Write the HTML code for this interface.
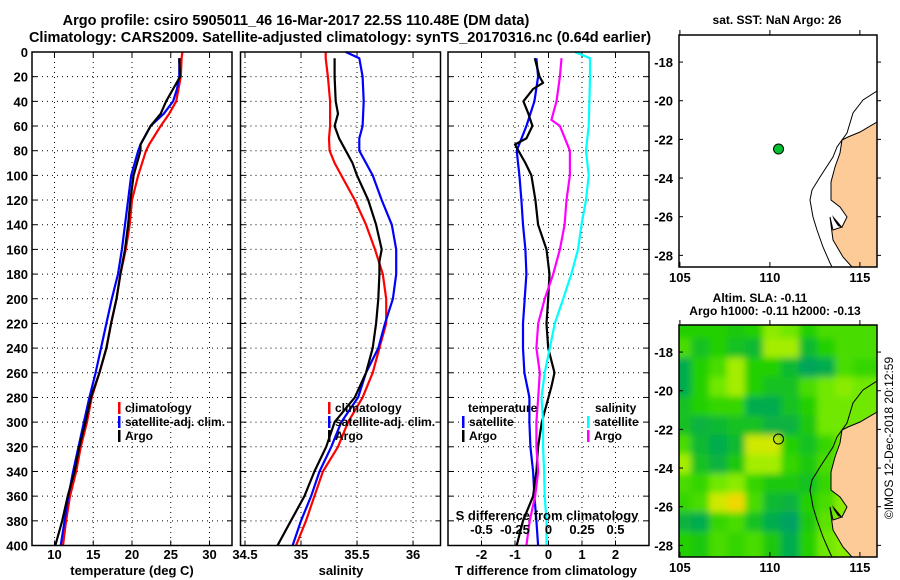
<!DOCTYPE html>
<html><head><meta charset="utf-8"><style>
html,body{margin:0;padding:0;background:#fff;}
svg{display:block;}
text{font-family:"Liberation Sans",sans-serif;font-weight:bold;fill:#000;}
</style></head><body>
<svg id="chart" width="900" height="580" viewBox="0 0 900 580" xmlns="http://www.w3.org/2000/svg">
<defs>
<filter id="blur" x="-5%" y="-5%" width="110%" height="110%"><feGaussianBlur stdDeviation="3.5"/></filter>
<clipPath id="mapclip"><rect x="679" y="325" width="198" height="232"/></clipPath>
<clipPath id="mapclipTop"><rect x="679" y="35" width="198" height="232"/></clipPath>
</defs>
<text x="296" y="25" text-anchor="middle" font-size="14.5">Argo profile: csiro 5905011_46 16-Mar-2017 22.5S 110.48E (DM data)</text>
<text x="340" y="42" text-anchor="middle" font-size="14.5">Climatology: CARS2009. Satellite-adjusted climatology: synTS_20170316.nc (0.64d earlier)</text>
<g id="plots"></g>
<text transform="translate(893,438) rotate(-90)" text-anchor="middle" font-size="12" style="font-weight:normal">©IMOS 12-Dec-2018 20:12:59</text>
</svg>
<script>
// ---------- data ----------
const tDepths   = [0,5,20,30,40,50,60,75,80,100,120,140,160,180,200,220,240,260,280,300,320,340,360,380,400];
const tClim     = [26.5,26.4,26.3,26.0,25.7,24.8,23.7,22.2,21.8,20.8,20.0,19.7,19.2,18.5,18.0,17.3,16.7,15.8,14.8,14.2,13.4,12.8,12.0,11.5,11.1];
const tSatDepths= [5,20,30,40,50,60,75,80,100,120,140,160,180,200,220,240,260,280,300,320,340,360,380,400];
const tSat      = [26.1,26.1,25.8,25.3,24.1,22.4,21.1,20.8,19.9,19.5,19.1,18.7,18.2,17.4,16.7,16.0,15.3,14.5,13.8,13.1,12.4,11.8,11.3,10.8];
const tArgo     = [26.1,26.2,25.3,24.4,23.7,22.4,21.1,21.1,20.2,19.8,19.5,19.1,18.5,18.0,17.3,16.7,15.8,14.7,14.0,13.2,12.6,11.7,11.0,10.1];

const sDepths   = [0,5,20,40,60,70,80,90,100,120,140,160,180,200,220,240,260,280,300,320,340,360,380,400];
const sClim     = [35.22,35.22,35.24,35.26,35.26,35.25,35.255,35.30,35.36,35.48,35.58,35.66,35.73,35.76,35.76,35.70,35.64,35.55,35.42,35.33,35.195,35.12,35.045,34.955];
const sSatDepths= [0,5,20,40,60,70,80,90,100,120,140,160,180,200,220,240,260,280,300,320,340,360,380,400];
const sSat      = [35.40,35.52,35.55,35.56,35.55,35.52,35.52,35.58,35.64,35.72,35.81,35.85,35.85,35.82,35.75,35.69,35.58,35.51,35.36,35.27,35.165,35.09,35.0,34.925];
const sArgoDepths=[5,20,40,50,60,70,80,90,100,120,140,160,170,180,200,220,240,260,280,300,320,340,360,380,400];
const sArgo     = [35.30,35.30,35.31,35.33,35.30,35.34,35.40,35.46,35.50,35.60,35.67,35.72,35.70,35.70,35.69,35.67,35.64,35.58,35.48,35.30,35.225,35.12,35.03,34.91,34.79];

const dTSatDepths=[5,20,40,60,80,100,120,140,160,180,200,220,240,260,280,300,320,340,360,380,400];
const dTSat     = [-0.36,-0.31,-0.42,-0.66,-0.95,-0.87,-0.81,-0.76,-0.69,-0.66,-0.71,-0.76,-0.76,-0.72,-0.57,-0.57,-0.54,-0.46,-0.42,-0.36,-0.31];
const dTArgoDepths=[5,20,25,30,40,50,60,70,75,80,90,100,120,140,160,180,200,220,240,260,271,280,290,300,320,340,360,380,400];
const dTArgo    = [-0.41,-0.27,-0.16,-0.46,-0.75,-0.6,-0.48,-0.66,-1.0,-0.9,-0.69,-0.51,-0.39,-0.31,-0.06,0.03,-0.01,-0.06,-0.01,0.18,0.09,0.0,-0.1,-0.2,-0.31,-0.36,-0.46,-0.76,-0.95];
const dSSatDepths=[0,5,20,40,60,80,100,120,140,160,180,200,220,240,260,280,300,320,340,360,380,400];
const dSSat     = [0.196,0.31,0.31,0.305,0.30,0.28,0.30,0.28,0.246,0.22,0.17,0.11,0.047,0.01,-0.028,-0.052,-0.04,-0.04,-0.033,-0.028,-0.015,-0.015];
const dSArgoDepths=[5,20,40,55,60,80,100,120,140,160,180,200,220,240,260,280,300,320,340,360,380,400];
const dSArgo    = [0.097,0.085,0.06,0.022,0.085,0.16,0.16,0.134,0.12,0.085,0.035,-0.028,-0.077,-0.09,-0.065,-0.077,-0.09,-0.09,-0.077,-0.1,-0.14,-0.165];

const depthTicks = [0,20,40,60,80,100,120,140,160,180,200,220,240,260,280,300,320,340,360,380,400];
const tTicks = [10,15,20,25,30];
const sTicks = [34.5,35,35.5,36];
const dTTicks = [-2,-1,0,1,2];
const dSTicks = [-0.5,-0.25,0,0.25,0.5];
const dSTickLabels = ['-0.5','-0.25','0','0.25','0.5'];
const lonTicks = [105,110,115];
const latTicks = [-18,-20,-22,-24,-26,-28];

// SLA grid (relative value 0..1), rows north->south, 1 degree cells from 104.95E, -16.6S
const slaGrid = [
 [0.5,0.5,0.5,0.45,0.5,0.75,0.7,0.5,0.6,0.6,0.6],
 [0.6,0.4,0.5,0.4,0.35,0.8,0.8,0.35,0.5,0.6,0.6],
 [0.25,0.5,0.6,0.8,0.5,0.5,0.35,0.2,0.25,0.6,0.55],
 [0.25,0.5,0.7,0.8,0.5,0.4,0.4,0.6,0.7,0.75,0.7],
 [0.4,0.5,0.55,0.55,0.25,0.25,0.4,0.5,0.7,0.7,0.7],
 [0.4,0.3,0.35,0.4,0.4,0.3,0.3,0.45,0.7,0.7,0.7],
 [0.6,0.35,0.25,0.35,0.9,0.9,0.5,0.4,0.55,0.7,0.7],
 [0.8,0.4,0.3,0.45,0.8,0.8,0.55,0.45,0.6,0.7,0.7],
 [0.6,0.55,0.7,0.75,0.55,0.45,0.45,0.4,0.55,0.75,0.75],
 [0.55,0.6,0.9,1.0,0.6,0.35,0.3,0.5,0.6,0.75,0.75],
 [0.3,0.25,0.55,0.6,0.4,0.25,0.15,0.45,0.65,0.75,0.75],
 [0.5,0.45,0.6,0.55,0.6,0.45,0.25,0.5,0.7,0.75,0.75]
];
const argoLon = 110.48, argoLat = -22.5;

// ---------- helpers ----------
const NS='http://www.w3.org/2000/svg';
const root=document.getElementById('plots');
function el(tag,attrs,parent){const e=document.createElementNS(NS,tag);for(const k in attrs)e.setAttribute(k,attrs[k]);(parent||root).appendChild(e);return e;}
function txt(x,y,s,size,anchor,parent){const t=el('text',{x:x,y:y,'font-size':size,'text-anchor':anchor||'middle'},parent);t.textContent=s;return t;}

const Y0=52, Y1=545.5;
const yD=d=>Y0+(d/400)*(Y1-Y0);

function panel(name,x0,x1,xmin,xmax){
  const g=el('g',{});
  
  
  const xs=v=>x0+(v-xmin)/(xmax-xmin)*(x1-x0);
  return {g,xs,x0,x1};
}
function grid(p,xticks,xsFn){
  depthTicks.forEach((d,i)=>{
    if(i>0&&i<depthTicks.length-1){
      const l=el('line',{x1:p.x0,x2:p.x1,y1:yD(d),y2:yD(d),stroke:'#000','stroke-width':1,'stroke-dasharray':'1,4'},p.g);
      
      
    }
    el('line',{x1:p.x0,x2:p.x0+5,y1:yD(d),y2:yD(d),stroke:'#000'},p.g);
    el('line',{x1:p.x1-5,x2:p.x1,y1:yD(d),y2:yD(d),stroke:'#000'},p.g);
  });
  xticks.forEach(v=>{
    const x=xsFn(v);
    const l=el('line',{x1:x,x2:x,y1:Y0,y2:Y1,stroke:'#000','stroke-width':1,'stroke-dasharray':'1,4'},p.g);
    
    
    el('line',{x1:x,x2:x,y1:Y1-5,y2:Y1,stroke:'#000'},p.g);
    el('line',{x1:x,x2:x,y1:Y0,y2:Y0+5,stroke:'#000'},p.g);
  });
}
function frame(p){
  const r=el('rect',{x:p.x0,y:Y0,width:p.x1-p.x0,height:Y1-Y0,fill:'none',stroke:'#000','stroke-width':1.5},p.g);
  
  
}
function series(p,xs,depths,vals,color,name){
  const pts=vals.map((v,i)=>xs(v).toFixed(1)+','+yD(depths[i]).toFixed(1)).join(' ');
  const pl=el('polyline',{points:pts,fill:'none',stroke:color,'stroke-width':2.2,'stroke-linejoin':'round'},p.g);
  
  
}
function legendEntry(g,x,y,color,label,name){
  const gg=el('g',{},g);
  
  
  el('rect',{x:x,y:y-10,width:2.5,height:12,fill:color},gg);
  txt(x+7,y,label,12,'start',gg);
}

// ---------- panel 1: temperature ----------
const p1=panel('temperature-panel',32,232,7.1,32.9);
grid(p1,tTicks,p1.xs);
series(p1,p1.xs,tDepths,tClim,'#ff0000','temp-climatology-line');
series(p1,p1.xs,tSatDepths,tSat,'#0000ff','temp-satellite-line');
series(p1,p1.xs,tSatDepths,tArgo,'#000000','temp-argo-line');
frame(p1);
depthTicks.forEach(d=>{const t=txt(28,yD(d)+5,String(d),13,'end',p1.g);});
tTicks.forEach(v=>{const t=txt(p1.xs(v),559,String(v),13,'middle',p1.g);});
txt(132,575,'temperature (deg C)',13,'middle',p1.g);
legendEntry(p1.g,118,412,'#ff0000','climatology','legend-climatology');
legendEntry(p1.g,118,426,'#0000ff','satellite-adj. clim.','legend-satellite');
legendEntry(p1.g,118,440,'#000000','Argo','legend-argo');

// ---------- panel 2: salinity ----------
const p2=panel('salinity-panel',240.5,440.5,34.46,36.245);
grid(p2,sTicks,p2.xs);
series(p2,p2.xs,sDepths,sClim,'#ff0000','sal-climatology-line');
series(p2,p2.xs,sSatDepths,sSat,'#0000ff','sal-satellite-line');
series(p2,p2.xs,sArgoDepths,sArgo,'#000000','sal-argo-line');
frame(p2);
sTicks.forEach(v=>{const t=txt(p2.xs(v),559,String(v),13,'middle',p2.g);});
txt(341,575,'salinity',13,'middle',p2.g);
legendEntry(p2.g,328,412,'#ff0000','climatology','legend-climatology');
legendEntry(p2.g,328,426,'#0000ff','satellite-adj. clim.','legend-satellite');
legendEntry(p2.g,328,440,'#000000','Argo','legend-argo');

// ---------- panel 3: differences ----------
const p3=panel('difference-panel',448,649,-3,3);
const xsS=v=>p3.xs(v*4);
grid(p3,dTTicks,p3.xs);
series(p3,p3.xs,dTSatDepths,dTSat,'#0000ff','tdiff-satellite-line');
series(p3,p3.xs,dTArgoDepths,dTArgo,'#000000','tdiff-argo-line');
series(p3,xsS,dSSatDepths,dSSat,'#00ffff','sdiff-satellite-line');
series(p3,xsS,dSArgoDepths,dSArgo,'#ff00ff','sdiff-argo-line');
frame(p3);
dTTicks.forEach(v=>{const t=txt(p3.xs(v),559,String(v),13,'middle',p3.g);});
dSTicks.forEach((v,i)=>{const t=txt(xsS(v),534,dSTickLabels[i],13,'middle',p3.g);});
txt(547,520,'S difference from climatology',13,'middle',p3.g);
txt(546,575,'T difference from climatology',13,'middle',p3.g);
txt(468,412,'temperature',12,'start',p3.g);
legendEntry(p3.g,462,426,'#0000ff','satellite','legend-t-satellite');
legendEntry(p3.g,462,440,'#000000','Argo','legend-t-argo');
txt(595,412,'salinity',12,'start',p3.g);
legendEntry(p3.g,587,426,'#00ffff','satellite','legend-s-satellite');
legendEntry(p3.g,587,440,'#ff00ff','Argo','legend-s-argo');

// ---------- maps ----------
const MX0=679, MX1=877, LON0=104.95, LON1=115.95;
const lonX=l=>MX0+(l-LON0)/(LON1-LON0)*(MX1-MX0);
function latY(top,lat){return top+(-16.6-lat)*19.33;}
const landPts='877,122 860,132 848,137 842,140 840,153 835,167 831,182 831,200 840,207 847,217 842,227 833,230 830,217 833,240 843,257 852,267 877,267';
const shelfPts='877,91 863,100 853,113 847,133 837,147 833,157 820,177 812,190 810,200 813,217 817,230 823,247 830,263 832,267';
const islandPts='832,215 838,222 843,228 838,226 834,220';
function mapFrame(g,top,name){
  el('rect',{x:MX0,y:top,width:MX1-MX0,height:232,fill:'none',stroke:'#000','stroke-width':1.5},g);
  lonTicks.forEach(l=>{const x=lonX(l);el('line',{x1:x,x2:x,y1:top+232-5,y2:top+232,stroke:'#000'},g);el('line',{x1:x,x2:x,y1:top-5,y2:top,stroke:'#000'},g);
    const t=txt(x,top+247,String(l),13,'middle',g);});
  latTicks.forEach(la=>{const y=latY(top,la);el('line',{x1:MX0,x2:MX0+4,y1:y,y2:y,stroke:'#000'},g);el('line',{x1:MX1,x2:MX1+4,y1:y,y2:y,stroke:'#000'},g);
    const t=txt(673,y+5,String(la),13,'end',g);});
}
function coast(g,dy,fill){
  el('polygon',{points:landPts,fill:fill,stroke:'#000','stroke-width':1,transform:'translate(0,'+dy+')'},g);
  el('polyline',{points:shelfPts,fill:'none',stroke:'#000','stroke-width':1,transform:'translate(0,'+dy+')'},g);
  el('polygon',{points:islandPts,fill:'#000',transform:'translate(0,'+dy+')'},g);
}
// top map
const m1=el('g',{});


el('rect',{x:MX0,y:35,width:198,height:232,fill:'#fff'},m1);
const gc1=el('g',{'clip-path':'url(#mapclipTop)'},m1);
coast(gc1,0,'#fdcb98');
const dot=el('circle',{cx:lonX(argoLon),cy:latY(35,argoLat),r:5,fill:'#00c030',stroke:'#000','stroke-width':1},m1);


mapFrame(m1,35,'sst-map');
txt(777,24,'sat. SST: NaN Argo: 26',12,'middle',m1);

// bottom map
function slaColor(v){
  const stops=[[0,[0,150,120]],[0.2,[0,165,90]],[0.35,[16,185,50]],[0.5,[32,208,0]],[0.7,[112,232,0]],[0.85,[190,240,0]],[1,[240,216,0]]];
  for(let i=1;i<stops.length;i++){if(v<=stops[i][0]){const a=stops[i-1],b=stops[i];const t=(v-a[0])/(b[0]-a[0]);
    return 'rgb('+a[1].map((c,k)=>Math.round(c+(b[1][k]-c)*t)).join(',')+')';}}
  return 'rgb(240,216,0)';
}
const m2=el('g',{});


const gc2=el('g',{'clip-path':'url(#mapclip)'},m2);
const cells=el('g',{filter:'url(#blur)'},gc2);
slaGrid.forEach((row,r)=>row.forEach((v,c)=>{
  const x0=lonX(LON0+c)-6, y0=latY(325,-16.6-r)-6;
  const rc=el('rect',{x:x0,y:y0,width:lonX(LON0+c+1)-lonX(LON0+c)+(c===0?6:0)+(c===row.length-1?12:0),height:19.4+(r===0?6:0)+(r===slaGrid.length-1?12:0),fill:slaColor(v)},cells);
  
  
}));
coast(gc2,290,'#fdcb98');
const ring=el('circle',{cx:lonX(argoLon),cy:latY(325,argoLat),r:5,fill:'none',stroke:'#000','stroke-width':1},m2);


mapFrame(m2,325,'sla-map');
txt(760,302,'Altim. SLA: -0.11',12,'middle',m2);
txt(775,315,'Argo h1000: -0.11 h2000: -0.13',12,'middle',m2);
</script>
</body></html>
